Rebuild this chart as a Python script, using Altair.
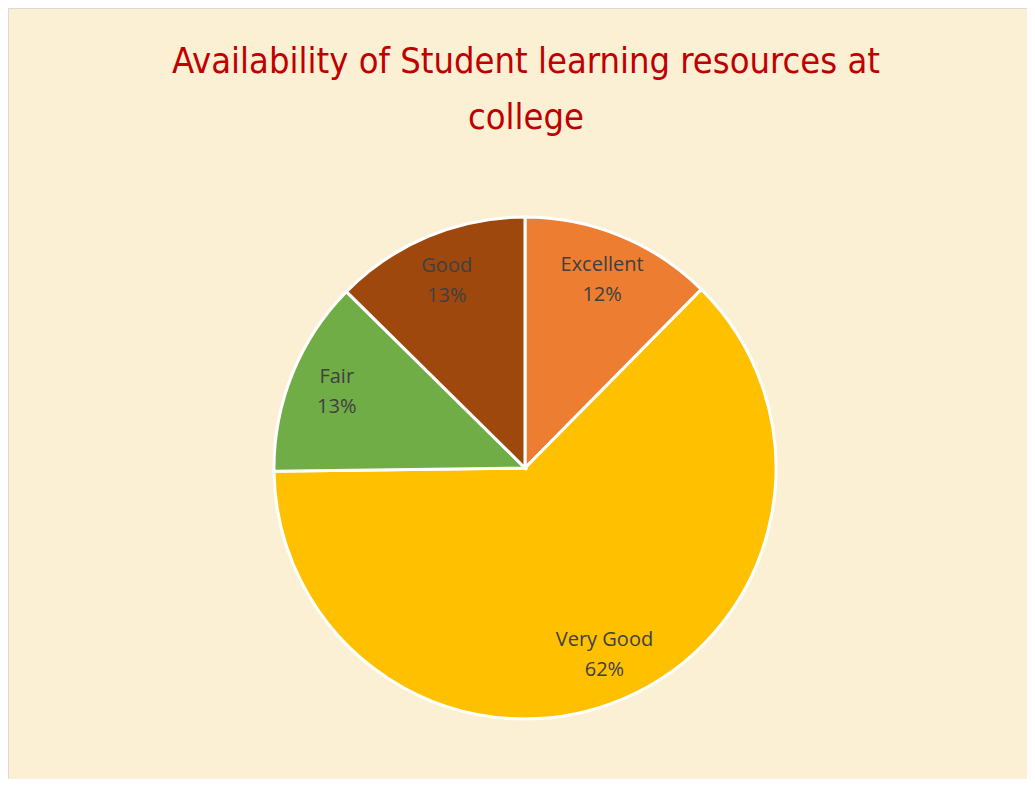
import altair as alt
import pandas as pd

categories = ["Excellent", "Very Good", "Fair", "Good"]
values = [12.4, 62.4, 12.6, 12.6]
pct_labels = ["12%", "62%", "13%", "13%"]
order_idx = [0, 1, 2, 3]
colors = ["#ED7D31", "#FFC000", "#70AD47", "#9E480E"]

title_lines = ["Availability of Student learning resources at", "college"]

df = pd.DataFrame({"cat": categories, "value": values, "pct": pct_labels, "idx": order_idx})

W, H = 1019, 771
CX, CY = 517, 460
R = 251

base = alt.Chart(df).encode(
    theta=alt.Theta("value:Q", stack=True),
    order=alt.Order("idx:Q"),
    x=alt.value(CX),
    y=alt.value(CY),
)

pie = base.mark_arc(stroke="white", strokeWidth=3, radius=R).encode(
    color=alt.Color("cat:N", scale=alt.Scale(domain=categories, range=colors), legend=None)
)

lab1 = base.mark_text(radius=203, fontSize=20, font="Open Sans", color="#404040", dy=-15).encode(
    text="cat:N"
)
lab2 = base.mark_text(radius=203, fontSize=20, font="Open Sans", color="#404040", dy=15).encode(
    text="pct:N"
)

tdf = pd.DataFrame({"t": title_lines, "line": [0, 1]})
title = alt.Chart(tdf).mark_text(
    font="DejaVu Sans Condensed", fontSize=36, color="#C00000", align="center", baseline="middle"
).encode(
    text="t:N",
    x=alt.value(518),
    y=alt.Y("line:Q", scale=alt.Scale(domain=[0, 1], range=[54, 110]), axis=None),
)

chart = alt.layer(pie, lab1, lab2, title).properties(
    width=W, height=H,
    autosize=alt.AutoSizeParams(type="fit", contains="padding"),
    padding=0,
    background="#FCF0D4",
).configure_view(stroke="#D9D9D9", strokeWidth=1)

chart.save("out.html", embed_options={"renderer": "svg", "actions": False})
